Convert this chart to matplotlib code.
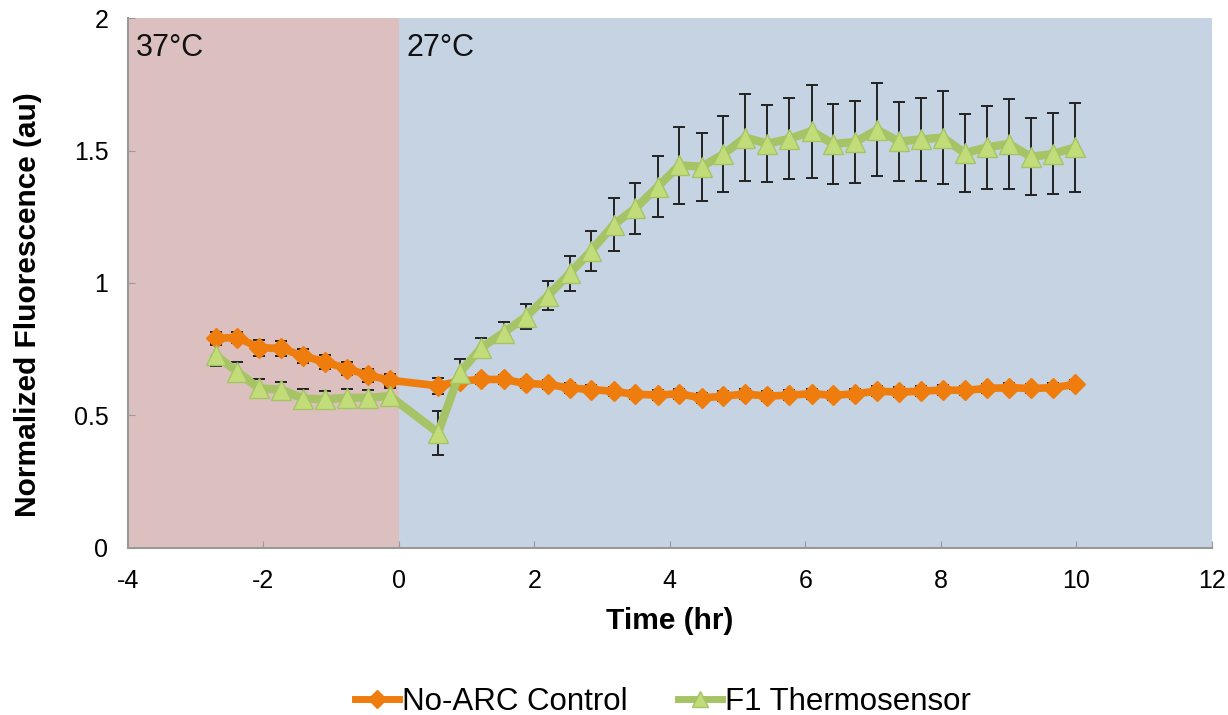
import matplotlib
matplotlib.use("Agg")
import matplotlib.pyplot as plt
from matplotlib.lines import Line2D

plt.rcParams['font.family'] = ['Liberation Sans', 'DejaVu Sans']
plt.rcParams['axes.unicode_minus'] = False

# Time points (hr)
time_hr = [-2.70, -2.38, -2.06, -1.74, -1.41, -1.09, -0.77, -0.45, -0.13,
           0.58, 0.90, 1.22, 1.55, 1.87, 2.20, 2.52, 2.84, 3.17, 3.49, 3.82,
           4.14, 4.47, 4.79, 5.11, 5.44, 5.76, 6.09, 6.41, 6.73, 7.06, 7.38,
           7.71, 8.03, 8.35, 8.68, 9.00, 9.33, 9.65, 9.98]

control_vals = [0.792, 0.794, 0.756, 0.753, 0.725, 0.702, 0.677, 0.652, 0.633,
                0.612, 0.630, 0.636, 0.636, 0.621, 0.617, 0.604, 0.598, 0.591,
                0.580, 0.577, 0.582, 0.566, 0.573, 0.581, 0.573, 0.577, 0.582,
                0.576, 0.582, 0.592, 0.588, 0.592, 0.596, 0.595, 0.602, 0.605,
                0.602, 0.605, 0.617]
control_err = [0.022, 0.022, 0.03, 0.028, 0.026, 0.025, 0.025, 0.024, 0.022,
               0.03, 0.02, 0.018, 0.018, 0.018, 0.018, 0.018, 0.018, 0.018,
               0.018, 0.018, 0.018, 0.018, 0.018, 0.018, 0.018, 0.018, 0.018,
               0.018, 0.018, 0.018, 0.018, 0.018, 0.018, 0.018, 0.018, 0.018,
               0.018, 0.018, 0.018]

sensor_vals = [0.727, 0.665, 0.602, 0.598, 0.564, 0.561, 0.567, 0.567, 0.573,
               0.435, 0.662, 0.756, 0.813, 0.872, 0.952, 1.036, 1.122, 1.220,
               1.282, 1.363, 1.444, 1.439, 1.486, 1.549, 1.526, 1.544, 1.573,
               1.525, 1.532, 1.578, 1.534, 1.542, 1.549, 1.490, 1.512, 1.525,
               1.476, 1.487, 1.512]
sensor_err = [0.04, 0.035, 0.035, 0.028, 0.037, 0.03, 0.033, 0.03, 0.03,
              0.083, 0.05, 0.035, 0.04, 0.047, 0.054, 0.065, 0.076, 0.10,
              0.096, 0.115, 0.145, 0.128, 0.143, 0.163, 0.144, 0.153, 0.175,
              0.15, 0.155, 0.175, 0.15, 0.158, 0.174, 0.147, 0.156, 0.169,
              0.145, 0.153, 0.169]

series_names = ["No-ARC Control", "F1 Thermosensor"]
x_ticks = [-4, -2, 0, 2, 4, 6, 8, 10, 12]
y_ticks = [0, 0.5, 1, 1.5, 2]
y_tick_labels = ["0", "0.5", "1", "1.5", "2"]

ORANGE = "#EE7D0E"
GREEN = "#A6C466"
GREEN_FACE = "#C2DC7A"

fig = plt.figure(figsize=(12.28, 7.15), dpi=100)
ax = fig.add_axes([0.104, 0.2336, 0.883, 0.7412])

ax.axvspan(-4, 0, color="#DCC0C0", zorder=0, lw=0)
ax.axvspan(0, 12, color="#C5D3E3", zorder=0, lw=0)

ax.errorbar(time_hr, sensor_vals, yerr=sensor_err, fmt='none', ecolor='#222222',
            elinewidth=1.4, capsize=4, capthick=1.4, zorder=2)
ax.errorbar(time_hr, control_vals, yerr=control_err, fmt='none', ecolor='#222222',
            elinewidth=1.4, capsize=4, capthick=1.4, zorder=2)

ax.plot(time_hr, control_vals, color=ORANGE, lw=5.5, marker='D', markersize=10,
        markerfacecolor=ORANGE, markeredgecolor=ORANGE, zorder=3)
ax.plot(time_hr, sensor_vals, color=GREEN, lw=6, marker='^', markersize=14,
        markerfacecolor=GREEN_FACE, markeredgecolor=GREEN, zorder=4)

ax.set_xlim(-4, 12)
ax.set_ylim(0, 2)
ax.set_xticks(x_ticks)
ax.set_yticks(y_ticks)
ax.set_yticklabels(y_tick_labels)
ax.tick_params(direction='in', length=5, color='#999999', labelsize=18)
ax.tick_params(axis='x', pad=15)
ax.tick_params(axis='y', pad=14)
for s in ['top', 'right']:
    ax.spines[s].set_visible(False)
for s in ['left', 'bottom']:
    ax.spines[s].set_color('#999999')
    ax.spines[s].set_linewidth(1.5)

ax.text(-3.88, 1.885, "37°C", fontsize=22, va='center', ha='left', color='#111111')
ax.text(0.12, 1.885, "27°C", fontsize=22, va='center', ha='left', color='#111111')

ax.set_xlabel("Time (hr)", fontsize=21.5, fontweight='bold', labelpad=10)
ax.set_ylabel("Normalized Fluorescence (au)", fontsize=21.5, fontweight='bold', labelpad=14)
ax.yaxis.set_label_coords(-0.079, 0.46)

handles = [
    Line2D([0], [0], color=ORANGE, lw=5, marker='D', markersize=9,
           markerfacecolor=ORANGE, markeredgecolor=ORANGE),
    Line2D([0], [0], color=GREEN, lw=5, marker='^', markersize=12,
           markerfacecolor=GREEN_FACE, markeredgecolor=GREEN),
]
fig.legend(handles, series_names, loc='lower center', bbox_to_anchor=(0.54, -0.042),
           ncol=2, frameon=False, fontsize=22.5, handlelength=1.4, handletextpad=0.1,
           columnspacing=1.6)

fig.savefig("out.png", dpi=100)
